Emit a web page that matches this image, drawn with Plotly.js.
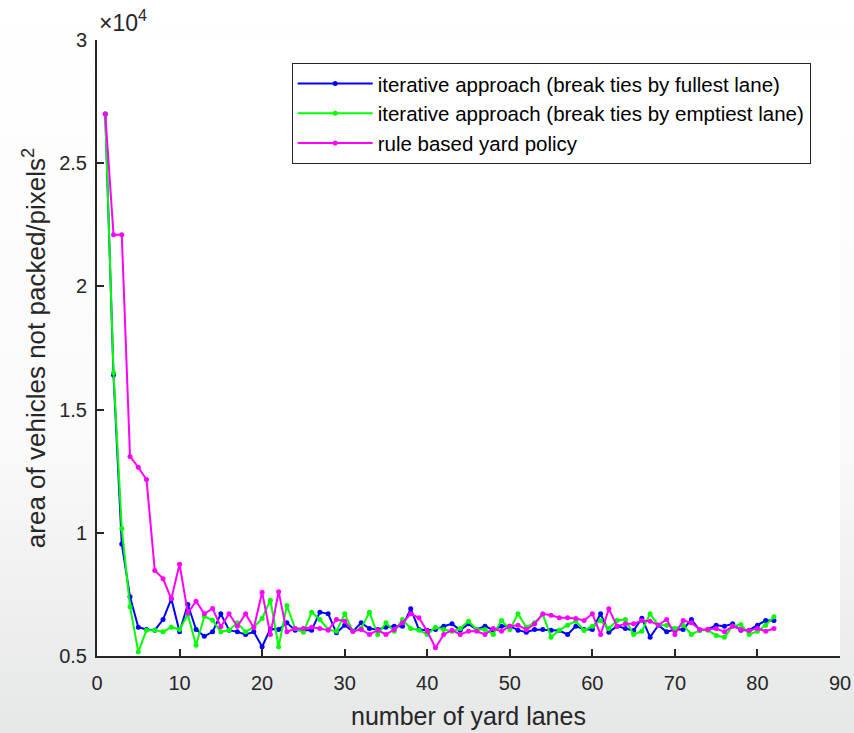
<!DOCTYPE html>
<html>
<head>
<meta charset="utf-8">
<script src="https://cdn.plot.ly/plotly-3.0.1.min.js"></script>
<style>
  html, body { margin: 0; padding: 0; }
  body { width: 854px; height: 733px; background: linear-gradient(to bottom, #ffffff 0%, #fafafa 60%, #e6e7e7 100%); }
  #chart { width: 854px; height: 733px; }
</style>
</head>
<body>
<div id="chart"></div>
<script>
// number of yard lanes
const lanes = Array.from({length: 82}, (_, i) => i + 1);

// iterative approach (break ties by fullest lane)
const fullest = [
  27000, 16400, 9550, 7400, 6170, 6075, 6050, 6480, 7320, 5980,
  7090, 6075, 5800, 5980, 6710, 6050, 5980, 5870, 5980, 5375,
  6100, 6075, 6345, 6050, 6050, 6050, 6780, 6710, 5940, 6250,
  6000, 6345, 6115, 6075, 6170, 6210, 6210, 6913, 6075, 6050,
  6075, 6210, 6305, 6050, 6305, 6075, 6210, 6050, 6210, 6210,
  6050, 5966, 6075, 6075, 6048, 6035, 5873, 6211, 6075, 6075,
  6711, 5967, 6211, 6116, 6035, 6530, 5765, 6251, 5981, 6075,
  6075, 6481, 6048, 6075, 6251, 6211, 6305, 6048, 6048, 6251,
  6440, 6440
];

// iterative approach (break ties by emptiest lane)
const emptiest = [
  27000, 16500, 10170, 7000, 5170, 6050, 6050, 5980, 6170, 6075,
  6684, 5440, 6610, 6450, 5980, 6050, 6345, 5980, 6170, 6521,
  7265, 5375, 7049, 6115, 5966, 6778, 6481, 6075, 6000, 6710,
  6000, 6115, 6778, 5873, 6345, 6000, 6481, 6115, 6050, 5873,
  6170, 6075, 6000, 6115, 6413, 6075, 6075, 5873, 6440, 6075,
  6710, 6170, 6350, 6684, 5765, 6048, 6251, 6413, 6035, 6211,
  6440, 6116, 6440, 6481, 5873, 6008, 6711, 6251, 6251, 6116,
  6251, 5873, 6048, 6048, 5832, 5765, 6211, 6278, 5873, 6008,
  6251, 6589
];

// rule based yard policy
const ruleBased = [
  27000, 22100, 22100, 13100, 12660, 12160, 8470, 8140, 7320, 8725,
  6750, 7224, 6710, 6927, 6185, 6710, 6210, 6710, 6143, 7590,
  5873, 7605, 5980, 6115, 6115, 6170, 6115, 6050, 6481, 6413,
  6000, 6075, 5873, 6050, 5873, 6075, 6345, 6710, 6550, 6000,
  5332, 5873, 6050, 5873, 6000, 6000, 5873, 6115, 6000, 6210,
  6250, 6075, 6300, 6711, 6650, 6549, 6549, 6522, 6440, 6711,
  5873, 6913, 6211, 6305, 6305, 6440, 6413, 6251, 6481, 5873,
  6440, 6346, 6075, 6075, 6116, 5981, 6211, 6075, 6035, 6116,
  6008, 6116
];

const seriesNames = [
  'iterative approach (break ties by fullest lane)',
  'iterative approach (break ties by emptiest lane)',
  'rule based yard policy'
];
const seriesColors = ['#0000ff', '#00ff00', '#ff00ff'];

const xTickVals = [0, 10, 20, 30, 40, 50, 60, 70, 80, 90];
const yTickVals = [5000, 10000, 15000, 20000, 25000, 30000];
const yTickText = ['0.5', '1', '1.5', '2', '2.5', '3'];

const seriesData = [fullest, emptiest, ruleBased];
const traces = seriesData.map((ys, k) => ({
  x: lanes,
  y: ys,
  type: 'scatter',
  mode: 'lines+markers',
  name: seriesNames[k],
  legendgroup: 'g' + k,
  line: {color: seriesColors[k], width: 2},
  marker: {color: seriesColors[k], size: 5},
  cliponaxis: false
}));

const fontFam = 'Liberation Sans, Arial, Helvetica, sans-serif';
const layout = {
  width: 854,
  height: 733,
  paper_bgcolor: 'rgba(0,0,0,0)',
  plot_bgcolor: '#ffffff',
  margin: {l: 97, r: 14, t: 40, b: 77},
  font: {family: fontFam, color: '#262626'},
  showlegend: true,
  legend: {
    x: 0.262, y: 0.963, xanchor: 'left', yanchor: 'top',
    bgcolor: '#ffffff', bordercolor: '#262626', borderwidth: 1,
    font: {family: fontFam, size: 20.5, color: '#000000'},
    itemwidth: 75,
    tracegroupgap: 0
  },
  xaxis: {
    range: [0, 90],
    tickvals: xTickVals,
    ticks: 'inside', ticklen: 7, tickwidth: 2, tickcolor: '#262626',
    showline: true, linecolor: '#262626', linewidth: 2,
    showgrid: false, zeroline: false,
    ticklabelstandoff: 8,
    tickfont: {size: 20, color: '#262626'},
    title: {text: 'number of yard lanes', font: {size: 25, color: '#262626'}, standoff: 14}
  },
  yaxis: {
    range: [5000, 30000],
    tickvals: yTickVals,
    ticktext: yTickText,
    ticks: 'inside', ticklen: 7, tickwidth: 2, tickcolor: '#262626',
    showline: true, linecolor: '#262626', linewidth: 2,
    showgrid: false, zeroline: false,
    ticklabelstandoff: 4,
    tickfont: {size: 20, color: '#262626'},
    title: {text: 'area of vehicles not packed/pixels<sup>2</sup>', font: {size: 26, color: '#262626'}, standoff: 6}
  },
  annotations: [{
    xref: 'paper', yref: 'paper', x: 0, y: 1, xanchor: 'left', yanchor: 'bottom',
    xshift: 0, yshift: 2,
    text: '×10<sup>4</sup>', showarrow: false,
    font: {family: fontFam, size: 23, color: '#262626'}
  }]
};

Plotly.newPlot('chart', traces, layout, {displayModeBar: false, staticPlot: true});
</script>
</body>
</html>
